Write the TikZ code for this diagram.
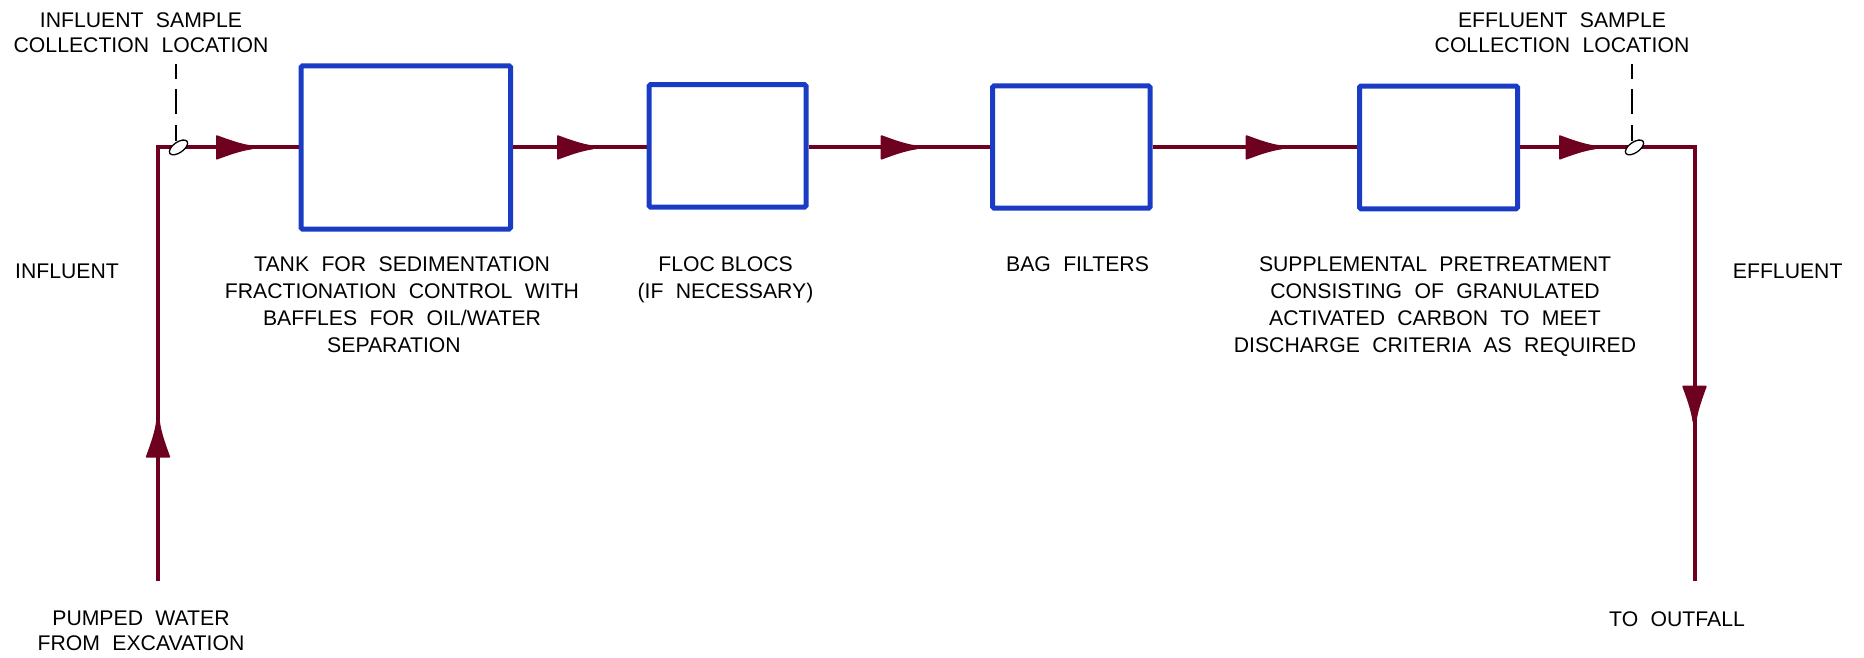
\documentclass[tikz,border=0pt]{standalone}
\usepackage{fontspec}
\setmainfont{Liberation Sans}[WordSpace=2.1]
\usetikzlibrary{decorations.markings,shapes.geometric}
\definecolor{flowred}{RGB}{110,0,32}
\definecolor{boxblue}{RGB}{26,60,196}
\newcommand{\flowhead}{\fill[flowred, rounded corners=1pt] (-36,12.5) .. controls (-25,8.5) and (-12,3.5) .. (1,1.8) -- (1,-1.8) .. controls (-12,-3.5) and (-25,-8.5) .. (-36,-12.5) -- cycle;}
\begin{document}
\begin{tikzpicture}[x=1pt,y=-1pt,
  flow/.style={draw=flowred, line width=4pt, line join=miter},
  arr/.style={postaction={decorate,decoration={markings,mark=at position #1 with {\flowhead}}}},
  unit/.style={draw=boxblue, line width=5pt, rounded corners=1.5pt, inner sep=0pt},
  lbl/.style={font=\fontsize{21.2}{27}\selectfont, align=center, inner sep=0pt, anchor=north},
  lbltwo/.style={lbl, font=\fontsize{21.2}{25.4}\selectfont},
  one/.style={font=\fontsize{21.2}{25.4}\selectfont, inner sep=0pt},
  leader/.style={draw=black, line width=1.1pt, dash pattern=on 15pt off 10pt on 25pt off 11pt on 17pt off 100pt},
  tap/.style={draw=black, fill=white, line width=1.3pt, ellipse, minimum width=21pt, minimum height=10.5pt, inner sep=0pt, rotate=35},
]
\useasboundingbox (0,0) rectangle (1864,657);

% treatment units
\node[unit, minimum width=209.7pt, minimum height=163.2pt] (b1) at (405.85,147.4) {};
\node[unit, minimum width=157pt, minimum height=122.3pt] (b2) at (727.5,145.85) {};
\node[unit, minimum width=157.5pt, minimum height=122.4pt] (b3) at (1071.25,147) {};
\node[unit, minimum width=158pt, minimum height=122.8pt] (b4) at (1438.5,147.4) {};

% flow path
\coordinate (src) at (158,581);
\coordinate (c1) at (158,147.4);
\coordinate (c5) at (1694.5,147.4);
\coordinate (dst) at (1694.5,581);

\draw[flow, arr=159.3pt, arr=527.6pt] (src) -- (c1) -- (b1.west);
\draw[flow, arr=79.8pt] (b1.east) -- (b1.east -| b2.west);
\draw[flow, arr=108.2pt] (b2.east |- b1.east) -- (b1.east -| b3.west);
\draw[flow, arr=129.2pt] (b3.east |- b1.east) -- (b1.east -| b4.west);
\draw[flow, arr=75pt, arr=448.8pt] (b4.east |- b1.east) -- (c5) -- (dst);

% sample collection points
\coordinate (lt1) at (176,64);
\coordinate (lb1) at (176,141);
\coordinate (lt2) at (1632,64);
\coordinate (lb2) at (1632,141);
\draw[leader] (lt1) -- (lb1);
\draw[leader] (lt2) -- (lb2);
\node[tap] (s1) at (178.5,147.4) {};
\node[tap] (s2) at (1634.5,147.4) {};

% labels
\node[lbltwo] (insamp) at (141,12.1) {INFLUENT SAMPLE\\COLLECTION LOCATION};
\node[lbltwo] (efsamp) at (1562,12.1) {EFFLUENT SAMPLE\\COLLECTION LOCATION};
\node[one, anchor=base west] (inf) at (15,278.3) {INFLUENT};
\node[one, anchor=base west] (eff) at (1732.7,278.3) {EFFLUENT};
\node[lbl] (t1) at (402,256.5) {TANK FOR SEDIMENTATION\\FRACTIONATION CONTROL WITH\\BAFFLES FOR OIL/WATER\\SEPARATION\hspace*{16pt}};
\node[lbl] (t2) at (725.5,256) {FLOC\hspace{6pt}BLOCS\\(IF NECESSARY)};
\node[one, anchor=base] (t3) at (1077.5,271) {BAG FILTERS};
\node[lbl] (t4) at (1435,256.5) {SUPPLEMENTAL PRETREATMENT\\CONSISTING OF GRANULATED\\ACTIVATED CARBON TO MEET\\DISCHARGE CRITERIA AS REQUIRED};
\node[lbltwo] (pump) at (141,610.8) {PUMPED WATER\\FROM EXCAVATION};
\node[one, anchor=base] (out) at (1677,626) {TO OUTFALL};
\end{tikzpicture}
\end{document}
